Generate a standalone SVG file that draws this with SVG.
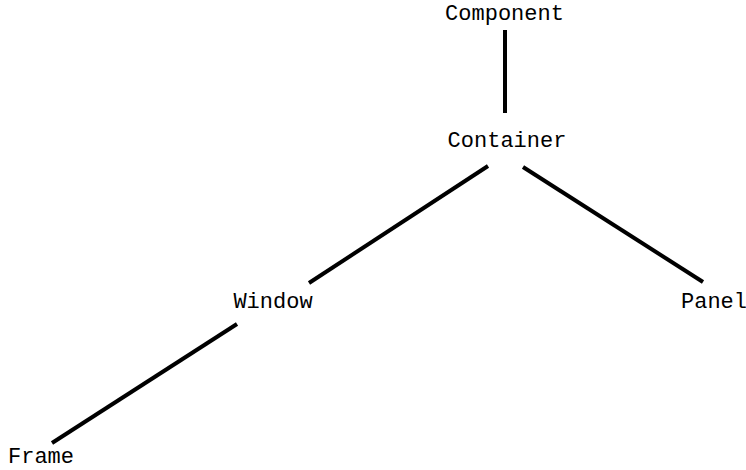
<svg xmlns="http://www.w3.org/2000/svg" width="746" height="470" viewBox="0 0 746 470">
<style>
.lbl{font-family:"Liberation Mono","Courier New",monospace;font-size:22px;fill:#000;text-anchor:middle}
.edge{stroke:#000;stroke-width:4;fill:none;stroke-linecap:butt}
</style>
<rect width="746" height="470" fill="#fff"/>
<g id="connectors">
<line class="edge" x1="505" y1="30" x2="505" y2="113"/>
<line class="edge" x1="488" y1="166" x2="309" y2="283"/>
<line class="edge" x1="523" y1="167" x2="703" y2="282"/>
<line class="edge" x1="237" y1="324" x2="52" y2="443"/>
</g>
<g id="node-component"><text class="lbl" x="504.5" y="19.5">Component</text></g>
<g id="node-container"><text class="lbl" x="507" y="146.5">Container</text></g>
<g id="node-window"><text class="lbl" x="273" y="308">Window</text></g>
<g id="node-panel"><text class="lbl" x="714" y="308">Panel</text></g>
<g id="node-frame"><text class="lbl" x="41" y="463">Frame</text></g>
</svg>
